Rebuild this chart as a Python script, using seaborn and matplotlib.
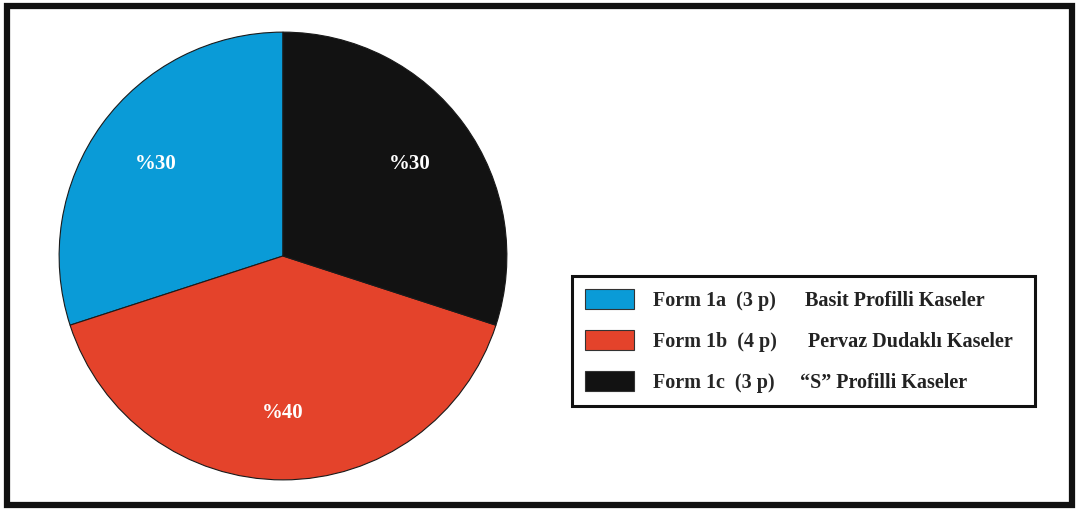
import matplotlib.pyplot as plt
import seaborn as sns
from matplotlib.patches import Patch, Rectangle

# Data
forms = ["Form 1a  (3 p)", "Form 1b  (4 p)", "Form 1c  (3 p)"]
descriptions = ["Basit Profilli Kaseler", "Pervaz Dudaklı Kaseler", "\u201cS\u201d Profilli Kaseler"]
counts = [3, 4, 3]
colors = ["#0A9BD7", "#E4432B", "#121212"]

sns.set_style("white")
plt.rcParams["font.family"] = ["Liberation Serif", "DejaVu Serif"]
plt.rcParams["font.weight"] = "bold"

W, H = 1077, 511
fig = plt.figure(figsize=(W / 100, H / 100), dpi=100)

# outer frame
fig.patches.append(Rectangle((7 / W, 6 / H), 1065 / W, 499 / H, transform=fig.transFigure,
                             fill=False, edgecolor="#111111", linewidth=4.5))

ax = fig.add_axes([58 / W, 30 / H, 450 / W, 450 / H])
wedges, texts, autotexts = ax.pie(
    counts, colors=colors, startangle=90, counterclock=True,
    autopct=lambda p: f"%{p:.0f}", pctdistance=0.70,
    wedgeprops={"edgecolor": "#1a1a1a", "linewidth": 0.8},
    textprops={"color": "white", "fontsize": 15, "fontweight": "bold"},
)
ax.set_xlim(-1.005, 1.005)
ax.set_ylim(-1.005, 1.005)
ax.axis("off")

handles = [Patch(facecolor=c, edgecolor="#333333", linewidth=0.8) for c in colors]
leg = fig.legend(handles, forms, loc="upper left",
                 bbox_to_anchor=(572 / W, 1 - 276 / H, 463 / W, 0), mode="expand",
                 borderaxespad=0, prop={"weight": "bold", "size": 14.5},
                 handlelength=2.45, handleheight=1.15, handletextpad=0.9,
                 labelspacing=0.95, borderpad=0.65, frameon=True, fancybox=False)
frame = leg.get_frame()
frame.set_edgecolor("#111111")
frame.set_linewidth(2.2)
frame.set_alpha(1)

# second column of legend text, aligned with each row
fig.canvas.draw()
renderer = fig.canvas.get_renderer()
for t, desc, dx in zip(leg.get_texts(), descriptions, [805, 808, 800]):
    bb = t.get_window_extent(renderer)
    yc = (bb.y0 + bb.y1) / 2
    fig.text(dx / W, yc / H, desc, ha="left", va="center", fontsize=14.5, fontweight="bold",
             color="#222222", zorder=10)

fig.savefig("out.png", dpi=100)
